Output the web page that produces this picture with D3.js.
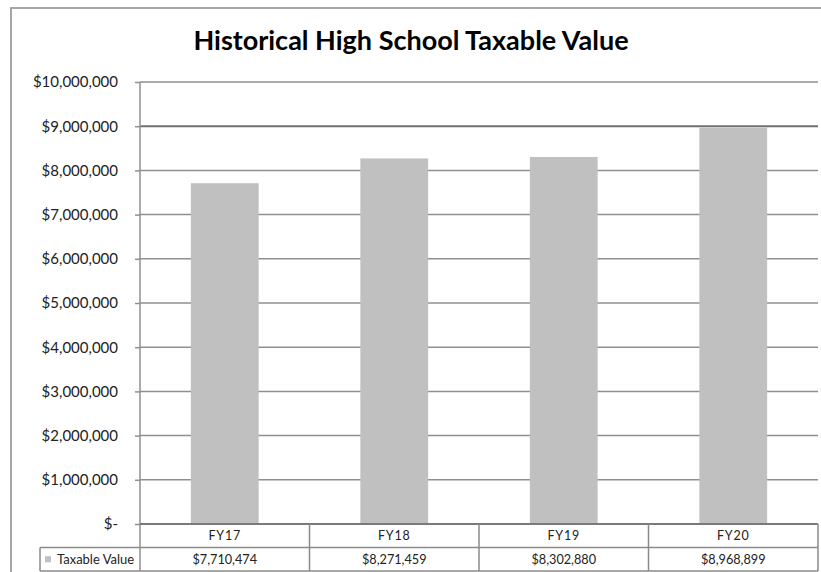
<!DOCTYPE html>
<html><head><meta charset="utf-8">
<script src="https://cdn.jsdelivr.net/npm/d3@7"></script>
<style>body{margin:0;background:#fff}svg{display:block}</style>
</head><body>
<svg id="c" width="821" height="572"></svg>
<script>
const title = "Historical High School Taxable Value";
const categories = ["FY17", "FY18", "FY19", "FY20"];
const seriesName = "Taxable Value";
const values = [7710474, 8271459, 8302880, 8968899];
const tickValues = [0, 1000000, 2000000, 3000000, 4000000, 5000000, 6000000, 7000000, 8000000, 9000000, 10000000];

const svg = d3.select("#c");
const font = "Lato, 'Open Sans', sans-serif";
const L = 140, R = 818, T = 82, B = 524;
const rowH = 23.5;

// outer chart border (right and bottom cut off)
svg.append("path").attr("d", `M11,572 V8 H821`).attr("fill", "none")
  .attr("stroke", "#a6a6a6").attr("stroke-width", 2);

svg.append("text").attr("x", 411).attr("y", 50).attr("text-anchor", "middle")
  .attr("font-family", font).attr("font-weight", "bold").attr("font-size", 27)
  .attr("fill", "#000").text(title);

const x = d3.scaleBand().domain(categories).range([L, R]).paddingInner(0.6).paddingOuter(0.3);
const xc = d3.scaleBand().domain(categories).range([L, R]);
const y = d3.scaleLinear().domain([0, 10000000]).range([B, T]);

const fmt = v => v === 0 ? "$-" : "$" + d3.format(",")(v);

// gridlines
svg.append("g").selectAll("line").data(tickValues.filter(d => d > 0)).join("line")
  .attr("x1", L).attr("x2", R).attr("y1", d => y(d)).attr("y2", d => y(d))
  .attr("stroke", d => d === 9000000 ? "#707070" : "#8f8f8f").attr("stroke-width", d => d === 9000000 ? 2 : 1.5);

// bars
svg.append("g").selectAll("rect").data(values).join("rect")
  .attr("x", (d, i) => x(categories[i])).attr("width", x.bandwidth())
  .attr("y", d => y(d)).attr("height", d => B - y(d)).attr("fill", "#c0c0c0");

// y axis
const yAxis = d3.axisLeft(y).tickValues(tickValues).tickFormat(fmt).tickSize(5).tickPadding(17);
const ga = svg.append("g").attr("transform", `translate(${L},0)`).call(yAxis);
ga.select(".domain").remove();
ga.selectAll(".tick line").attr("stroke", "#8f8f8f").attr("stroke-width", 1.5);
ga.selectAll(".tick text").attr("font-family", font).attr("font-size", 15).attr("fill", "#222");

// axis vertical line (continues into data table)
svg.append("line").attr("x1", L).attr("x2", L).attr("y1", T).attr("y2", B + 2 * rowH)
  .attr("stroke", "#8f8f8f").attr("stroke-width", 1.5);

// data table
const tbl = svg.append("g");
const tc = "#8a8a8a";
tbl.append("line").attr("x1", L).attr("x2", R).attr("y1", B).attr("y2", B).attr("stroke", "#7a7a7a").attr("stroke-width", 2);
tbl.append("line").attr("x1", 40).attr("x2", R).attr("y1", B + rowH).attr("y2", B + rowH).attr("stroke", tc).attr("stroke-width", 1.5);
tbl.append("line").attr("x1", 40).attr("x2", R).attr("y1", B + 2 * rowH).attr("y2", B + 2 * rowH).attr("stroke", tc).attr("stroke-width", 1.5);
tbl.append("line").attr("x1", 40).attr("x2", 40).attr("y1", B + rowH).attr("y2", B + 2 * rowH).attr("stroke", tc).attr("stroke-width", 1.5);
tbl.selectAll("line.col").data(categories).join("line").attr("class", "col")
  .attr("x1", d => xc(d) + xc.bandwidth()).attr("x2", d => xc(d) + xc.bandwidth())
  .attr("y1", B).attr("y2", B + 2 * rowH).attr("stroke", tc).attr("stroke-width", 1.5);

tbl.selectAll("text.cat").data(categories).join("text").attr("class", "cat")
  .attr("x", d => xc(d) + xc.bandwidth() / 2).attr("y", B + rowH / 2 + 4.5)
  .attr("text-anchor", "middle").attr("font-family", font).attr("font-size", 12.5)
  .attr("letter-spacing", 0.8).attr("fill", "#222").text(d => d);
tbl.selectAll("text.val").data(values).join("text").attr("class", "val")
  .attr("x", (d, i) => xc(categories[i]) + xc.bandwidth() / 2).attr("y", B + rowH * 1.5 + 4.5)
  .attr("text-anchor", "middle").attr("font-family", font).attr("font-size", 12.7).attr("fill", "#222").text(d => fmt(d));

tbl.append("rect").attr("x", 45).attr("y", B + rowH * 1.5 - 3).attr("width", 6).attr("height", 6).attr("fill", "#c0c0c0");
tbl.append("text").attr("x", 57).attr("y", B + rowH * 1.5 + 4.5).attr("font-family", font).attr("font-size", 13)
  .attr("fill", "#222").text(seriesName);
</script>
</body></html>
